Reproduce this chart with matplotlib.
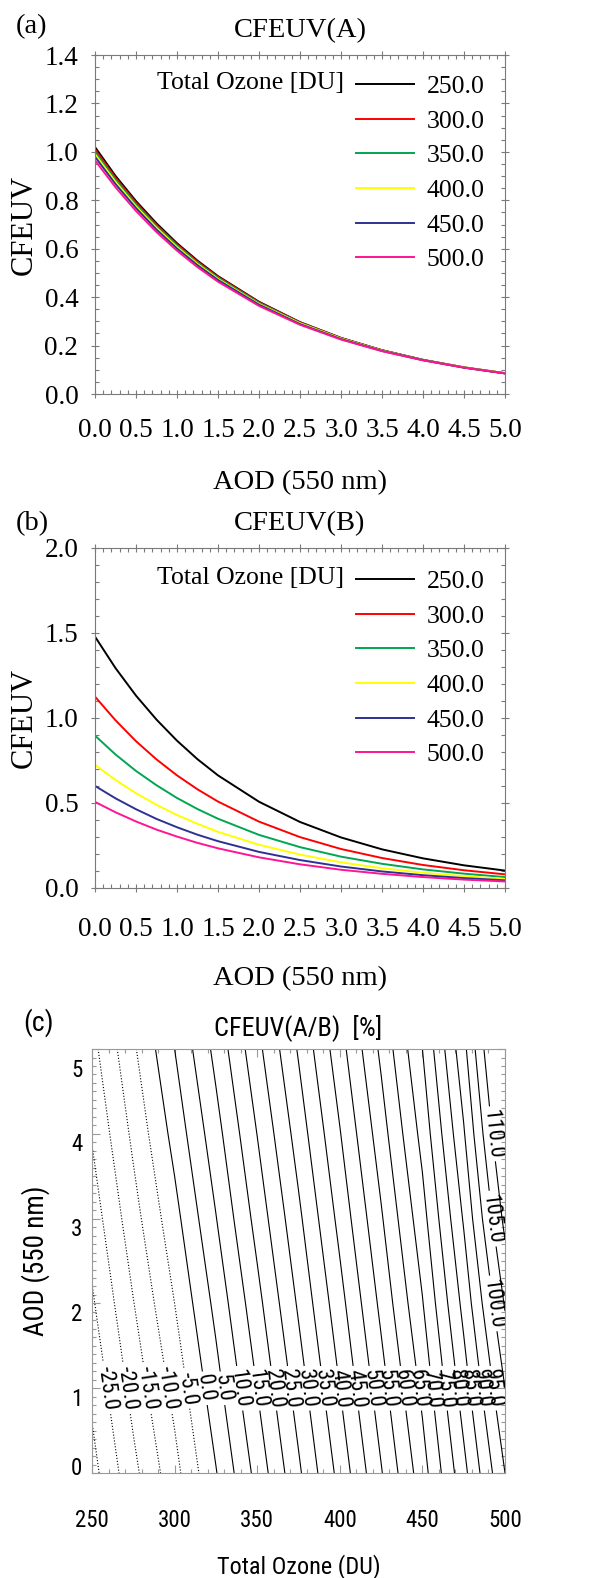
import numpy as np
import matplotlib
matplotlib.use("Agg")
from matplotlib import pyplot as plt
from matplotlib import transforms, font_manager
from matplotlib.ticker import MultipleLocator, FormatStrFormatter

plt.rcParams["font.family"] = ["Liberation Serif", "DejaVu Serif"]

# total ozone levels of the curves in (a) and (b)
OZONE = [250, 300, 350, 400, 450, 500]
COLORS = ["#000000", "#ff0000", "#00a651", "#ffff00", "#2e3192", "#ff1493"]

AOD = [0.0, 0.25, 0.5, 0.75, 1.0, 1.25, 1.5, 2.0, 2.5, 3.0, 3.5, 4.0, 4.5, 5.0]

# CFEUV(A)
CFE_A_250 = [1.020, 0.901, 0.797, 0.705, 0.623, 0.551, 0.487, 0.381, 0.297, 0.232, 0.181, 0.141, 0.110, 0.086]
CFE_A_300 = [1.010, 0.893, 0.790, 0.699, 0.618, 0.547, 0.484, 0.379, 0.296, 0.231, 0.181, 0.141, 0.110, 0.086]
CFE_A_350 = [1.000, 0.885, 0.783, 0.693, 0.613, 0.542, 0.480, 0.376, 0.294, 0.230, 0.180, 0.141, 0.110, 0.086]
CFE_A_400 = [0.990, 0.876, 0.775, 0.686, 0.607, 0.537, 0.475, 0.372, 0.292, 0.229, 0.179, 0.140, 0.110, 0.086]
CFE_A_450 = [0.980, 0.867, 0.768, 0.679, 0.601, 0.532, 0.471, 0.369, 0.289, 0.227, 0.178, 0.140, 0.109, 0.085]
CFE_A_500 = [0.965, 0.854, 0.756, 0.669, 0.592, 0.524, 0.464, 0.364, 0.286, 0.225, 0.177, 0.139, 0.109, 0.085]

# CFEUV(B)
CFE_B_250 = [1.478, 1.293, 1.131, 0.990, 0.866, 0.757, 0.662, 0.507, 0.388, 0.297, 0.227, 0.174, 0.133, 0.102]
CFE_B_300 = [1.125, 0.986, 0.863, 0.756, 0.662, 0.580, 0.508, 0.390, 0.299, 0.229, 0.176, 0.135, 0.104, 0.080]
CFE_B_350 = [0.896, 0.785, 0.688, 0.604, 0.529, 0.464, 0.407, 0.312, 0.240, 0.184, 0.142, 0.109, 0.084, 0.064]
CFE_B_400 = [0.724, 0.635, 0.557, 0.489, 0.429, 0.377, 0.330, 0.254, 0.196, 0.151, 0.116, 0.089, 0.069, 0.053]
CFE_B_450 = [0.600, 0.527, 0.463, 0.406, 0.357, 0.313, 0.275, 0.212, 0.164, 0.126, 0.097, 0.075, 0.058, 0.045]
CFE_B_500 = [0.506, 0.445, 0.391, 0.343, 0.302, 0.265, 0.233, 0.180, 0.139, 0.107, 0.083, 0.064, 0.049, 0.038]

# CFEUV(A/B) [%] grid for panel (c)
GRID_OZONE = [250, 275, 300, 325, 350, 375, 400, 425, 450, 475, 500]
GRID_AOD = [0, 1, 2, 3, 4, 5]
RATIO_AOD0 = [-31.8, -21.4, -11.7, -0.3, 11.7, 24.1, 36.7, 49.6, 62.8, 78.5, 95.0]
RATIO_AOD1 = [-28.8, -18.3, -8.4, 3.1, 15.1, 27.4, 40.0, 52.9, 66.2, 82.5, 100.0]
RATIO_AOD2 = [-25.7, -15.2, -5.0, 6.4, 18.4, 30.7, 43.2, 56.2, 69.7, 86.5, 105.5]
RATIO_AOD3 = [-22.7, -12.0, -1.7, 9.8, 21.8, 33.9, 46.5, 59.4, 73.1, 90.5, 111.5]
RATIO_AOD4 = [-19.6, -8.9, 1.7, 13.1, 25.1, 37.2, 49.7, 62.7, 76.6, 94.5, 117.0]
RATIO_AOD5 = [-16.6, -5.8, 5.0, 16.5, 28.5, 40.5, 53.0, 66.0, 80.0, 98.5, 122.0]
LEVELS = list(range(-30, 115, 5))

GRAY = "#7a7a7a"

# the lettering of panel (c) is a narrow grotesque; use a condensed face if one is installed
_fonts = font_manager.fontManager.ttflist
_names = {f.name for f in _fonts}
sans, stretch = "Liberation Sans", "normal"
for nm in ("Liberation Sans Narrow", "Arial Narrow", "Roboto Condensed", "Open Sans Condensed", "Noto Sans Condensed"):
    if nm in _names:
        sans = nm
        break
else:
    if any(f.name == "DejaVu Sans" and f.stretch in ("condensed", "semi-condensed", 500, 600) for f in _fonts):
        sans, stretch = "DejaVu Sans", "condensed"
if sans == "Liberation Sans":
    FS = dict(tick=16, title=17.5, xlab=16.5, ylab=18.5, tag=19, clab=14)
else:
    FS = dict(tick=16.5, title=19, xlab=17.5, ylab=19.5, tag=20, clab=16)


def curve_panel(ax, series, ymax, ymajor, yminor, title, leg_top, note_y, xpad, xlabpad):
    for oz, col, vals in zip(OZONE, COLORS, series):
        ax.plot(AOD, vals, color=col, lw=1.4, label=f"{oz:.1f}")
    ax.set_xlim(0, 5)
    ax.set_ylim(0, ymax)
    ax.xaxis.set_major_locator(MultipleLocator(0.5))
    ax.xaxis.set_minor_locator(MultipleLocator(0.1))
    ax.yaxis.set_major_locator(MultipleLocator(ymajor))
    ax.yaxis.set_minor_locator(MultipleLocator(yminor))
    ax.xaxis.set_major_formatter(FormatStrFormatter("%.1f"))
    ax.yaxis.set_major_formatter(FormatStrFormatter("%.1f"))
    for sp in ax.spines.values():
        sp.set_color(GRAY)
        sp.set_linewidth(0.8)
    ax.tick_params(which="both", top=True, right=True, colors=GRAY, labelcolor="black", width=0.8)
    ax.tick_params(which="major", direction="inout", length=6, labelsize=19.5)
    ax.tick_params(which="minor", direction="in", length=3)
    ax.tick_params(axis="x", which="major", pad=xpad)
    ax.tick_params(axis="y", which="major", pad=9)
    ax.set_xlabel("AOD (550 nm)", fontsize=20.5, labelpad=xlabpad)
    ax.set_ylabel("CFEUV", fontsize=22, labelpad=4)
    ax.set_title(title, fontsize=20.5, pad=13)
    ax.legend(loc="upper right", bbox_to_anchor=(0.951, leg_top), frameon=False, fontsize=18.5,
              handlelength=2.25, handletextpad=0.5, labelspacing=0.45, borderpad=0, borderaxespad=0)
    ax.text(0.607, note_y, "Total Ozone [DU]", transform=ax.transAxes, ha="right", va="center", fontsize=18.5)


fig = plt.figure(figsize=(5.99, 15.78), dpi=100)

ax1 = fig.add_axes([0.1586, 0.7503, 0.6845, 0.2148])
curve_panel(ax1, [CFE_A_250, CFE_A_300, CFE_A_350, CFE_A_400, CFE_A_450, CFE_A_500],
            1.4, 0.2, 0.05, "CFEUV(A)", 0.94, 0.917, 14, 20)

ax2 = fig.add_axes([0.1586, 0.4373, 0.6845, 0.2155])
curve_panel(ax2, [CFE_B_250, CFE_B_300, CFE_B_350, CFE_B_400, CFE_B_450, CFE_B_500],
            2.0, 0.5, 0.1, "CFEUV(B)", 0.934, 0.912, 18, 17)

fig.text(0.027, 0.9829, "(a)", fontsize=20.5, ha="left", va="center")
fig.text(0.027, 0.668, "(b)", fontsize=20.5, ha="left", va="center")

# panel (c): contour of the ratio
ax3 = fig.add_axes([0.1536, 0.0665, 0.6895, 0.2687])
ratio = np.array([RATIO_AOD0, RATIO_AOD1, RATIO_AOD2, RATIO_AOD3, RATIO_AOD4, RATIO_AOD5])
styles = [":" if v < 0 else "-" for v in LEVELS]
cs = ax3.contour(GRID_OZONE, GRID_AOD, ratio, levels=LEVELS, colors="k", linewidths=0.8, linestyles=styles)

rows = [0.85, 1.1, 1.35]
special = {100: 2.3, 105: 3.3, 110: 3.6}
spots = []
for i, lev in enumerate(LEVELS):
    if lev < -25 or len(cs.allsegs[i]) == 0:
        continue
    target = special.get(lev, rows[(i - 1) % 3])
    pts = np.vstack(cs.allsegs[i])
    j = int(np.argmin(np.abs(pts[:, 1] - target)))
    spots.append((pts[j, 0], pts[j, 1]))
ax3.clabel(cs, manual=spots, fmt="%.1f", fontsize=FS["clab"], inline=True, inline_spacing=3)
for t in cs.labelTexts:
    t.set_family(sans)
    t.set_fontstretch(stretch)

ax3.set_xlim(250, 500)
ax3.set_ylim(0, 5)
ax3.xaxis.set_major_locator(MultipleLocator(50))
ax3.xaxis.set_minor_locator(MultipleLocator(10))
ax3.set_yticks([0, 1, 2, 3, 4, 5])
ax3.yaxis.set_minor_locator(MultipleLocator(0.1))
for sp in ax3.spines.values():
    sp.set_color("#999999")
    sp.set_linewidth(0.8)
ax3.tick_params(which="both", direction="in", top=True, right=True, colors="#999999",
                labelcolor="black", width=0.8, labelfontfamily=sans)
ax3.tick_params(which="major", length=6, labelsize=FS["tick"])
ax3.tick_params(which="minor", length=3)
ax3.tick_params(axis="x", which="major", pad=26)
ax3.tick_params(axis="y", which="major", pad=7)
for tick in ax3.xaxis.get_major_ticks():
    tick.label1.set_fontstretch(stretch)
# the y labels of the original sit a little below their ticks
shifts_px = [7, -9, -9, -8, -8, -19]
for tick, dy in zip(ax3.yaxis.get_major_ticks(), shifts_px):
    lbl = tick.label1
    lbl.set_fontstretch(stretch)
    lbl.set_transform(lbl.get_transform() + transforms.ScaledTranslation(0, dy / 100, fig.dpi_scale_trans))
ax3.set_xlabel("Total Ozone (DU)", fontsize=FS["xlab"], family=sans, fontstretch=stretch, labelpad=16)
ax3.set_ylabel("AOD (550 nm)", fontsize=FS["ylab"], family=sans, fontstretch=stretch, labelpad=15)
ax3.set_title("CFEUV(A/B)  [%]", fontsize=FS["title"], family=sans, fontstretch=stretch, pad=10)
fig.text(0.038, 0.3517, "(c)", fontsize=FS["tag"], family=sans, fontstretch=stretch, ha="left", va="center")

fig.savefig("out.png", dpi=100)
